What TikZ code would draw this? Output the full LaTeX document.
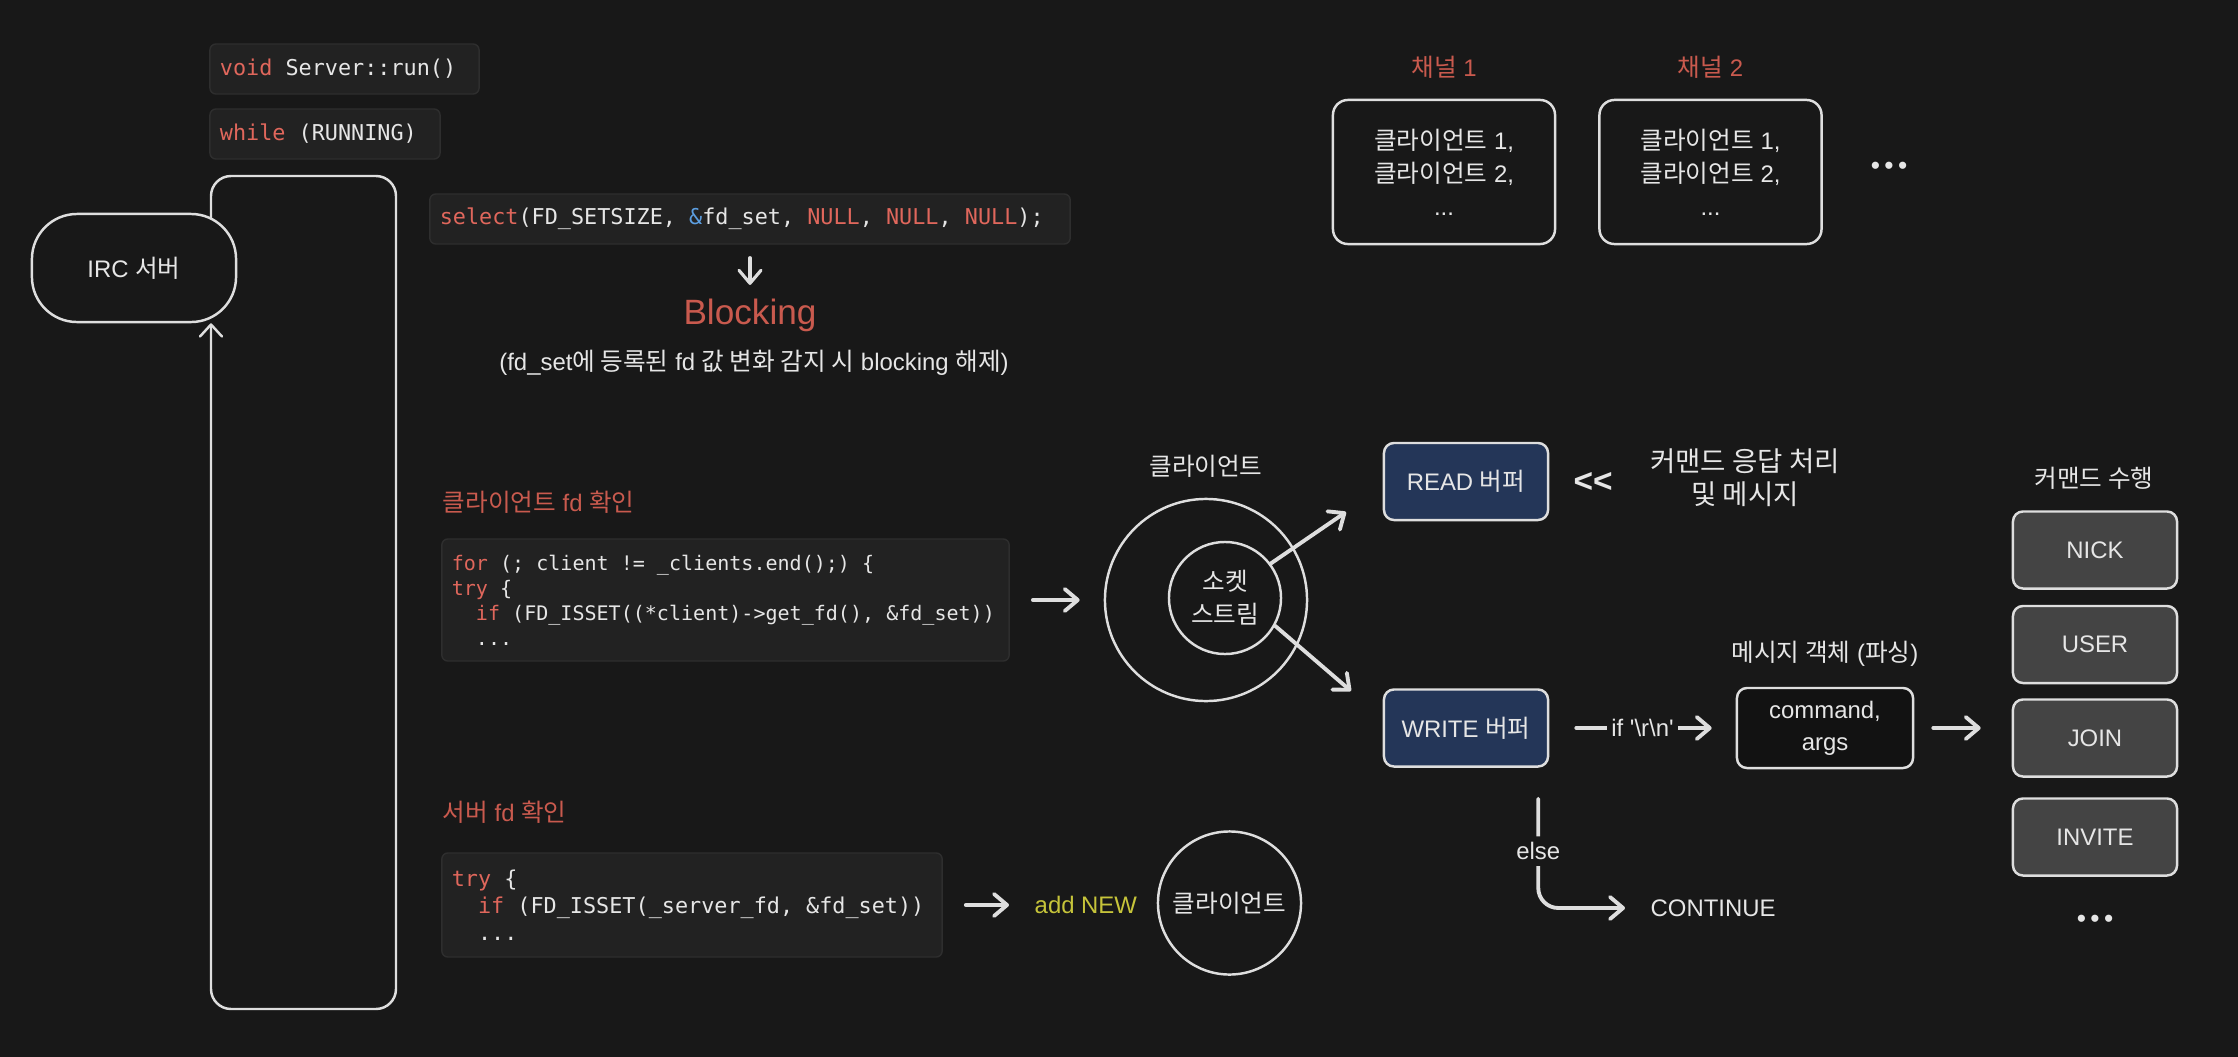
\documentclass[tikz,border=0pt]{standalone}
\usepackage{fontspec}
\setmainfont{Liberation Sans}
\newfontfamily\krfont{Noto Sans CJK KR}[Scale=1.03]
\newfontfamily\codefont{DejaVu Sans Mono}
\usepackage{tikz}
\usetikzlibrary{arrows.meta}
\usetikzlibrary{positioning}

\definecolor{bg}{HTML}{181818}
\definecolor{fg}{HTML}{E6E6E6}
\definecolor{stroke}{HTML}{DEDEDE}
\definecolor{accent}{HTML}{C95A4E}
\definecolor{codebg}{HTML}{222222}
\definecolor{codeline}{HTML}{2E2E2E}
\definecolor{codered}{HTML}{E0675C}
\definecolor{codeblue}{HTML}{5C9EE0}
\definecolor{addyellow}{HTML}{C6C43A}
\definecolor{navy}{HTML}{243658}
\definecolor{cmdgray}{HTML}{444444}
\definecolor{objfill}{HTML}{121212}

\newcommand\ko[1]{{\krfont #1}}
\newcommand\kw[1]{\textcolor{codered}{#1}}
\newcommand\codeat[2]{\fontsize{#1}{#2}\codefont}

\begin{document}
\begin{tikzpicture}[
    x=0.01cm, y=-0.01cm,
    lbl/.style={text=fg, inner sep=0pt, font=\fontsize{6.8}{8.2}\selectfont},
    redlbl/.style={lbl, text=accent},
    codebox/.style={draw=codeline, fill=codebg, rounded corners=0.06cm, text=fg, align=flush left,
      inner xsep=0.1cm, inner ysep=0pt, minimum height=0.5cm, font=\codeat{6.2}{7.6},
      execute at begin node={\spaceskip=0.602em\xspaceskip=0.602em\relax}},
    sketch/.style={draw=stroke, line width=0.7pt, text=fg, inner sep=0pt, font=\fontsize{6.8}{8.2}\selectfont},
    bufbox/.style={sketch, fill=navy, rounded corners=0.1cm, minimum width=1.64cm, minimum height=0.77cm},
    cmdbox/.style={sketch, fill=cmdgray, rounded corners=0.1cm, minimum width=1.64cm, minimum height=0.77cm},
    chanbox/.style={sketch, rounded corners=0.15cm, minimum width=2.22cm, minimum height=1.44cm,
      align=center, font=\fontsize{6.8}{9.4}\selectfont},
    ring/.style={sketch, circle},
    arr/.style={draw=stroke, line width=1.1pt, line cap=round, -{Straight Barb[length=0.13cm, width=0.22cm, round]}},
    thinarr/.style={draw=stroke, line width=0.7pt, line cap=round, rounded corners=0.2cm,
      -{Straight Barb[length=0.12cm, width=0.22cm, round]}},
    dots/.style={text=fg, inner sep=0pt, font=\fontsize{7.5}{7.5}\selectfont},
  ]

  \fill[bg] (0,0) rectangle (2238,1057);
  \useasboundingbox (0,0) rectangle (2238,1057);

  \node[codebox, text width=2.49cm] (voidrun) at (344.5,69) {\kw{void} Server::run()};
  \node[codebox, text width=2.10cm] (whileloop) at (325,134) {\kw{while} (RUNNING)};
  \node[codebox, text width=6.20cm] (selectcall) at (750,219)
    {\kw{select}(FD\_SETSIZE, \textcolor{codeblue}{\&}fd\_set, \kw{NULL}, \kw{NULL}, \kw{NULL});};
  \node[redlbl, font=\fontsize{10}{12}\selectfont] (blocking) at (750,315) {Blocking};
  \node[lbl] (blocknote) at (754,363) {(fd\_set\ko{에 등록된} fd \ko{값 변화 감지 시} blocking \ko{해제})};
  \draw[arr, line width=0.9pt, shorten <=0.13cm, shorten >=0.13cm] (selectcall) -- (blocking);

  \node[sketch, fill=bg, rounded corners=0.45cm, minimum width=2.04cm, minimum height=1.08cm] (irc) at (134,268) {IRC \ko{서버}};
  \coordinate (loopnw) at (211,176);
  \coordinate (loopse) at (396,1009);
  \draw[thinarr] ([yshift=-0.05cm]irc.north -| loopnw) -- (loopnw) -| (loopse) -| (loopnw |- irc.south);

  \node[redlbl, anchor=west] (clientcheck) at (442,502) {\ko{클라이언트} fd \ko{확인}};
  \node[codebox, text width=5.47cm, minimum height=1.22cm, font=\codeat{5.7}{7.1}] (forbox) at (725.5,600)
    {\kw{for} (; client != \_clients.end();) \{\\
     \kw{try} \{\\
     \phantom{xx}\kw{if} (FD\_ISSET((*client)->get\_fd(), \&fd\_set))\\
     \phantom{xx}...};

  \node[ring, minimum size=2.02cm] (clientring) at (1206,600) {};
  \node[lbl, above=0.2cm of clientring] (clientlbl) {\ko{클라이언트}};
  \node[ring, minimum size=1.12cm, align=center, font=\fontsize{6.8}{9.4}\selectfont] (socket) at (1225,598) {\ko{소켓}\\\ko{스트림}};
  \draw[arr, shorten <=0.23cm, shorten >=0.24cm] (forbox) -- (clientring);

  \node[bufbox] (readbuf) at (1466,481.5) {READ \ko{버퍼}};
  \node[bufbox] (writebuf) at (1466,728) {WRITE \ko{버퍼}};
  \coordinate (toread) at (1346,512);
  \coordinate (towrite) at (1351,691);
  \draw[arr] (socket.37) -- (toread);
  \draw[arr] (socket.-29) -- (towrite);

  \node[lbl, font=\fontsize{9.5}{10}\bfseries] (readin) at (1593,482) {<{}<};
  \node[lbl, align=center, font=\fontsize{7.6}{9.4}\selectfont] (respnote) at (1745,478) {\ko{커맨드 응답 처리}\\\ko{및 메시지}};

  \node[lbl] (cmdhead) at (2094,478) {\ko{커맨드 수행}};
  \foreach \name/\cmd/\yy in {nick/NICK/550, user/USER/644.5, join/JOIN/738, invite/INVITE/837}
    \node[cmdbox] (\name) at (2095,\yy) {\cmd};
  \node[dots] (cmddots) at (2095,921) {•\,•\,•};

  \node[sketch, fill=objfill, rounded corners=0.1cm, minimum width=1.76cm, minimum height=0.8cm,
    align=center, font=\fontsize{6.8}{9.1}\selectfont] (cmdobj) at (1825,728) {command,\\args};
  \node[lbl, above=0.2cm of cmdobj] (objlbl) {\ko{메시지 객체} (\ko{파싱})};

  \draw[arr, shorten <=0.27cm, shorten >=0.24cm] (writebuf) --
    node[lbl, fill=bg, inner xsep=0.04cm, inner ysep=0.05cm] {if \textquotesingle\textbackslash r\textbackslash n\textquotesingle} (cmdobj);
  \draw[arr, shorten <=0.19cm, shorten >=0.31cm] (cmdobj) -- (cmdobj -| join.west);

  \node[lbl, anchor=west] (contin) at (1650,908) {CONTINUE};
  \draw[arr, rounded corners=0.2cm, shorten >=0.25cm] ([xshift=-0.11cm, yshift=-0.31cm]writebuf.south east)
    |- node[lbl, pos=0.24, fill=bg, inner ysep=0.06cm] {else} (contin);

  \node[redlbl, anchor=west] (servercheck) at (442,812) {\ko{서버} fd \ko{확인}};
  \node[codebox, text width=4.80cm, minimum height=1.04cm] (tryserver) at (692,905)
    {\kw{try} \{\\
     \phantom{xx}\kw{if} (FD\_ISSET(\_server\_fd, \&fd\_set))\\
     \phantom{xx}...};
  \node[lbl, text=addyellow, anchor=west] (addnew) at (1034,905) {add NEW};
  \draw[arr, shorten <=0.23cm, shorten >=0.25cm] (tryserver) -- (addnew);
  \node[ring, minimum size=1.43cm] (newclient) at (1229.5,903) {\ko{클라이언트}};

  \foreach \i/\xx in {1/1444, 2/1710.5} {
    \node[chanbox] (chan\i) at (\xx,172) {\ko{클라이언트} 1,\\\ko{클라이언트} 2,\\...};
    \node[redlbl, above=0.2cm of chan\i] {\ko{채널} \i};
  }
  \node[dots] (chandots) at (1889,168) {•\,•\,•};

\end{tikzpicture}
\end{document}
